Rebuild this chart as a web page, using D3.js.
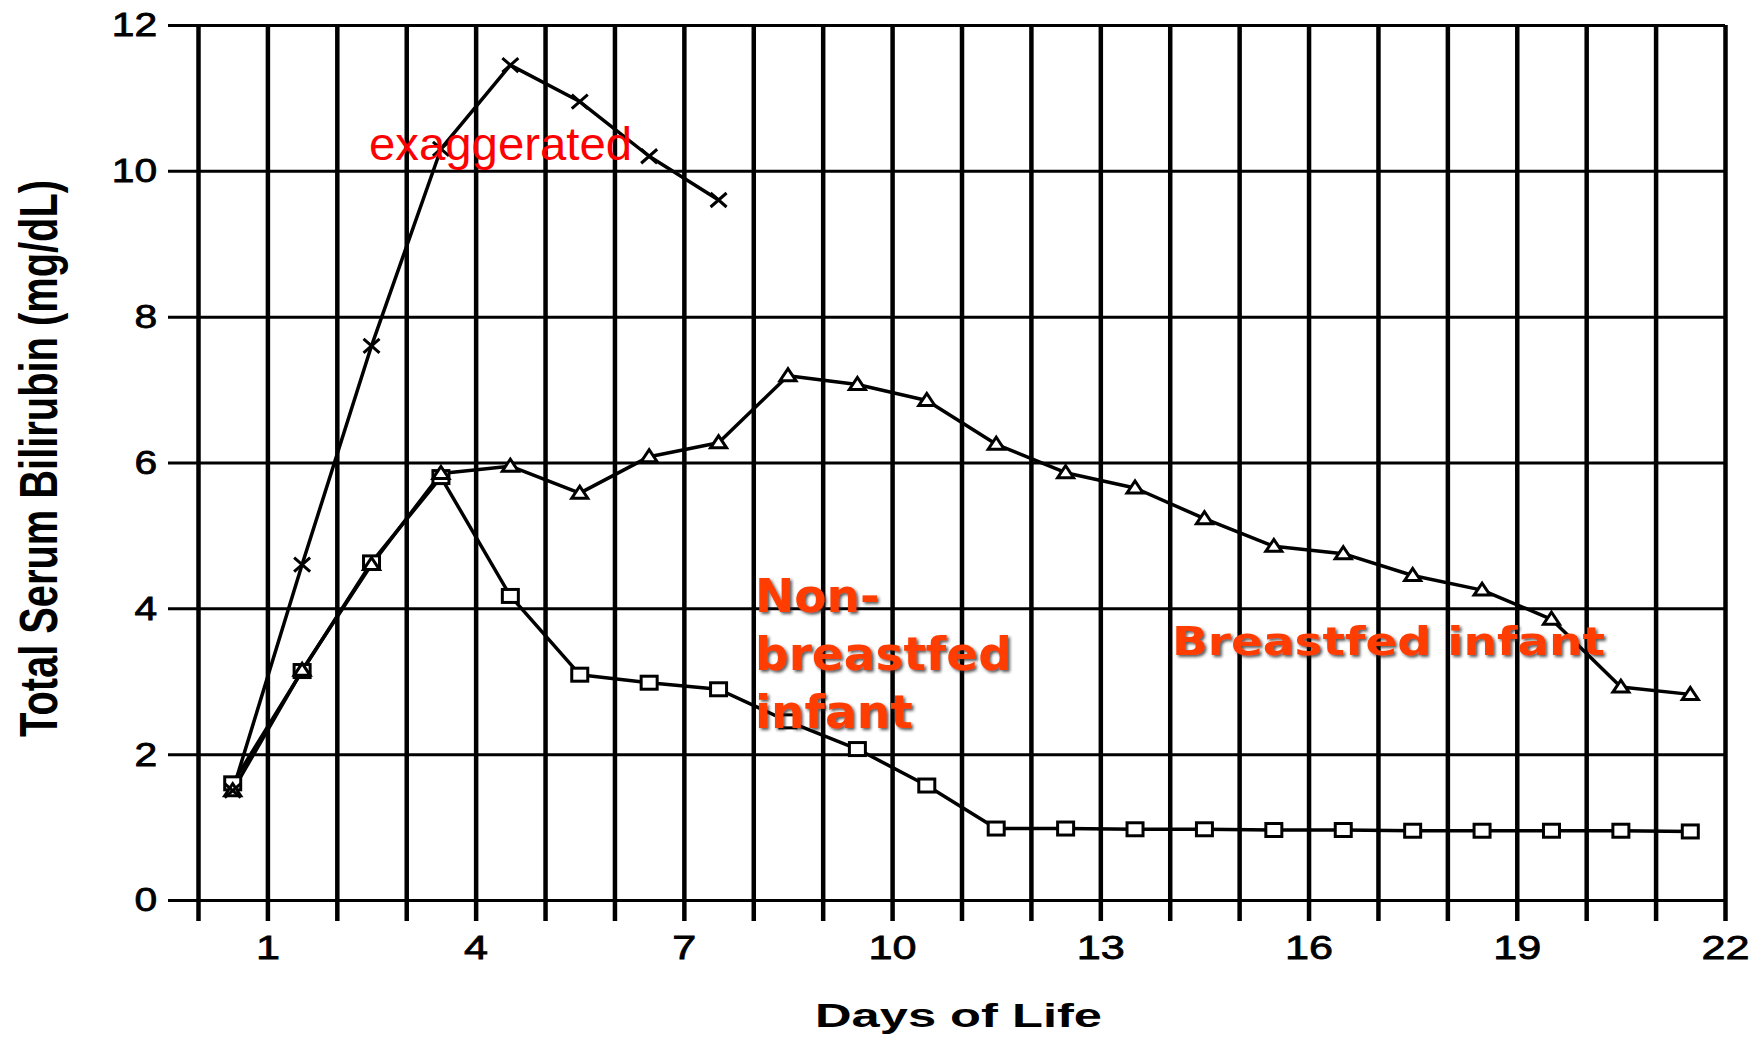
<!DOCTYPE html>
<html>
<head>
<meta charset="utf-8">
<script src="https://cdn.jsdelivr.net/npm/d3@7"></script>
<style>
  body { margin: 0; background: #fff; }
  svg { display: block; }
</style>
</head>
<body>
<script>
// values
const sampleDays = [0.5, 1.5, 2.5, 3.5, 4.5, 5.5, 6.5, 7.5, 8.5, 9.5, 10.5,
                    11.5, 12.5, 13.5, 14.5, 15.5, 16.5, 17.5, 18.5, 19.5, 20.5, 21.5];
const exaggerated = [1.5, 4.6, 7.6, 10.3, 11.45, 10.95, 10.2, 9.6];
const breastfed = [1.5, 3.15, 4.6, 5.85, 5.95, 5.58, 6.08, 6.27, 7.19, 7.07, 6.85,
                   6.25, 5.86, 5.65, 5.23, 4.85, 4.75, 4.45, 4.25, 3.85, 2.92, 2.82];
const nonBreastfed = [1.6, 3.14, 4.63, 5.8, 4.17, 3.09, 2.98, 2.89, 2.45, 2.07, 1.57,
                      0.98, 0.98, 0.97, 0.97, 0.96, 0.96, 0.95, 0.95, 0.95, 0.95, 0.94];
const gridDays = d3.range(0, 23);
const dayTicks = [1, 4, 7, 10, 13, 16, 19, 22];
const yTicks = [0, 2, 4, 6, 8, 10, 12];

const width = 1764;
const height = 1040;
const ink = "#000";
const orange = "#ff3c00";

const svg = d3.select("body")
    .append("svg")
    .attr("width", width)
    .attr("height", height);

const defs = svg.append("defs");
const shadow = defs.append("filter")
    .attr("id", "shadow")
    .attr("x", "-10%").attr("y", "-10%")
    .attr("width", "130%").attr("height", "140%");
shadow.append("feDropShadow")
    .attr("dx", 2).attr("dy", 2)
    .attr("stdDeviation", 1.4)
    .attr("flood-color", "#222")
    .attr("flood-opacity", 0.75);

const x = d3.scaleLinear().domain([0, 22]).range([198, 1725]);
const y = d3.scaleLinear().domain([0, 12]).range([900, 25]);

const font = "'Liberation Sans', Arial, Helvetica, sans-serif";

// horizontal grid + y labels (grid sticks out 30px left of the frame)
const yAxis = d3.axisLeft(y)
    .tickValues(yTicks)
    .tickSize(-(x(22) - x(0) + 30))
    .tickSizeOuter(0)
    .tickPadding(9);

svg.append("g")
    .attr("transform", `translate(${x(0) - 30},0)`)
    .call(yAxis)
    .call(g => g.select(".domain").remove())
    .call(g => g.selectAll("line").attr("stroke", ink).attr("stroke-width", 3))
    .call(g => g.selectAll("text")
        .attr("font-family", font)
        .attr("font-size", 34)
        .attr("fill", ink)
        .attr("stroke", ink)
        .attr("stroke-width", 0.8)
        .attr("transform", "scale(1.2,1)"));

// vertical grid, one line per day, running 21px below the zero line
const xAxis = d3.axisBottom(x)
    .tickValues(gridDays)
    .tickSize(-(y(0) + 21 - y(12)))
    .tickSizeOuter(0)
    .tickPadding(14)
    .tickFormat(d => dayTicks.includes(d) ? d : "");

svg.append("g")
    .attr("transform", `translate(0,${y(0) + 21})`)
    .call(xAxis)
    .call(g => g.select(".domain").remove())
    .call(g => g.selectAll("line").attr("stroke", ink).attr("stroke-width", 4.5))
    .call(g => g.selectAll("text")
        .attr("font-family", font)
        .attr("font-size", 34)
        .attr("fill", ink)
        .attr("stroke", ink)
        .attr("stroke-width", 0.8)
        .attr("transform", "scale(1.27,1)"));

// axis titles
svg.append("text")
    .attr("x", 815)
    .attr("y", 1027)
    .attr("font-family", font)
    .attr("font-weight", "bold")
    .attr("font-size", 33)
    .attr("textLength", 287)
    .attr("lengthAdjust", "spacingAndGlyphs")
    .text("Days of Life");

// rotated title, glyphs stretched sideways like the scan
svg.append("text")
    .attr("transform", "translate(57,737) rotate(-90) scale(1,1.36)")
    .attr("font-family", font)
    .attr("font-weight", "bold")
    .attr("font-size", 39.5)
    .attr("textLength", 557)
    .attr("lengthAdjust", "spacingAndGlyphs")
    .text("Total Serum Bilirubin (mg/dL)");

// series
function seriesPoints(values) {
    return values.map((v, i) => [sampleDays[i], v]);
}
const line = d3.line().x(d => x(d[0])).y(d => y(d[1]));

const series = [
    { name: "nonBreastfed", pts: seriesPoints(nonBreastfed) },
    { name: "breastfed", pts: seriesPoints(breastfed) },
    { name: "exaggerated", pts: seriesPoints(exaggerated) }
];

svg.append("g")
    .selectAll("path")
    .data(series)
    .join("path")
    .attr("d", d => line(d.pts))
    .attr("fill", "none")
    .attr("stroke", ink)
    .attr("stroke-width", 3.5)
    .attr("stroke-linejoin", "round");

// open squares
svg.append("g")
    .selectAll("rect")
    .data(series[0].pts)
    .join("rect")
    .attr("x", d => x(d[0]) - 8)
    .attr("y", d => y(d[1]) - 6.5)
    .attr("width", 16)
    .attr("height", 13)
    .attr("fill", "#fff")
    .attr("stroke", ink)
    .attr("stroke-width", 3);

// open triangles
svg.append("g")
    .selectAll("path")
    .data(series[1].pts)
    .join("path")
    .attr("d", d => {
        const cx = x(d[0]), cy = y(d[1]);
        return `M${cx - 8},${cy + 5}L${cx + 8},${cy + 5}L${cx},${cy - 7}Z`;
    })
    .attr("fill", "#fff")
    .attr("stroke", ink)
    .attr("stroke-width", 3);

// crosses
svg.append("g")
    .selectAll("path")
    .data(series[2].pts)
    .join("path")
    .attr("d", d => {
        const cx = x(d[0]), cy = y(d[1]);
        return `M${cx - 8},${cy - 7}L${cx + 8},${cy + 7}M${cx - 8},${cy + 7}L${cx + 8},${cy - 7}`;
    })
    .attr("fill", "none")
    .attr("stroke", ink)
    .attr("stroke-width", 3);

// red notes pasted on top of the scan
svg.append("text")
    .attr("x", 369)
    .attr("y", 160)
    .attr("font-family", font)
    .attr("font-size", 47)
    .attr("fill", "#ff0000")
    .attr("textLength", 263)
    .attr("lengthAdjust", "spacingAndGlyphs")
    .text("exaggerated");

const note = svg.append("g")
    .attr("font-family", "'DejaVu Sans', Verdana, sans-serif")
    .attr("font-weight", "bold")
    .attr("fill", orange)
    .attr("filter", "url(#shadow)");

note.selectAll("text.nb")
    .data(["Non-", "breastfed", "infant"])
    .join("text")
    .attr("class", "nb")
    .attr("x", 755)
    .attr("y", (d, i) => 612 + i * 58)
    .attr("font-size", 47)
    .text(d => d);

note.append("text")
    .attr("x", 1172)
    .attr("y", 655)
    .attr("font-size", 39)
    .attr("textLength", 433)
    .attr("lengthAdjust", "spacingAndGlyphs")
    .text("Breastfed infant");
</script>
</body>
</html>
